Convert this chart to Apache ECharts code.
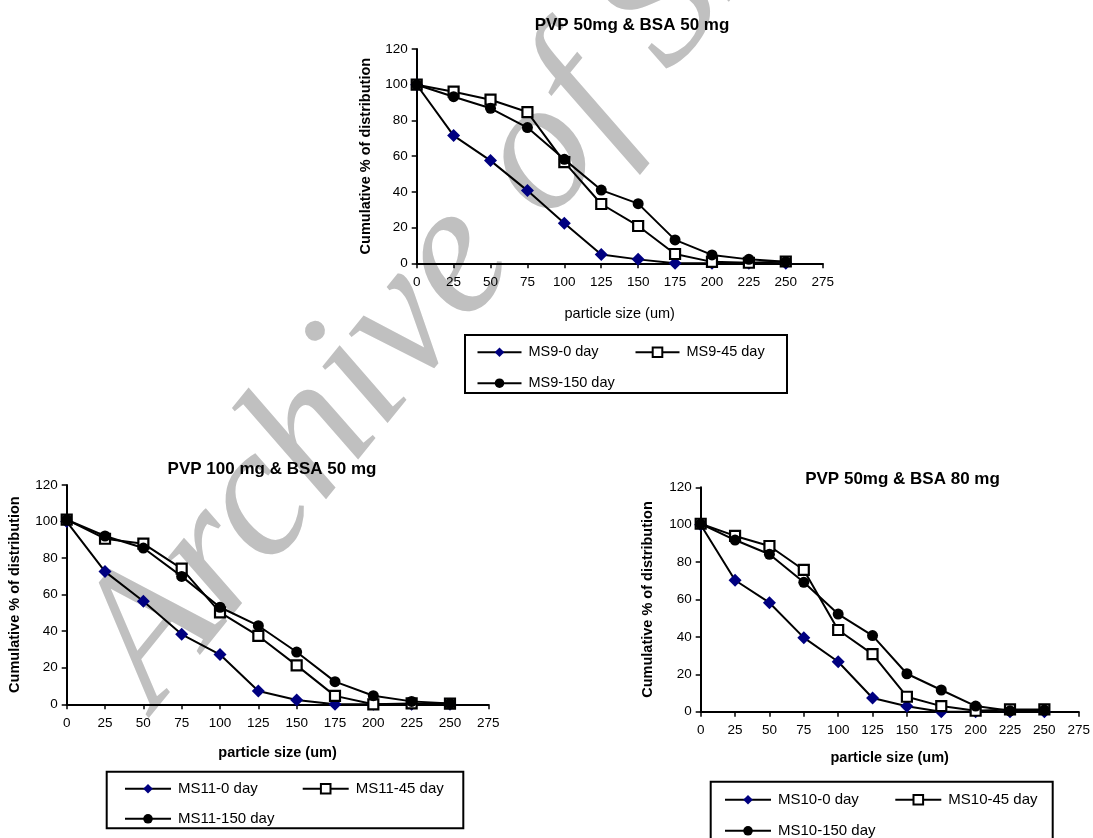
<!DOCTYPE html>
<html>
<head>
<meta charset="utf-8">
<script src="https://cdn.jsdelivr.net/npm/echarts@6/dist/echarts.min.js"></script>
<style>
html,body{margin:0;padding:0;background:#fff;}
#chart{width:1093px;height:838px;}
</style>
</head>
<body>
<div id="chart"></div>
<script>
// ---- data ----
var sizes = [0, 25, 50, 75, 100, 125, 150, 175, 200, 225, 250];

var ms9_0   = [100, 71.5, 57.5, 40.7, 22.4, 4.9, 2.2, 0, 0, 0, 0];
var ms9_45  = [100, 96.1, 91.6, 84.7, 56.7, 33.2, 20.9, 5.2, 0.8, 0.3, 1.0];
var ms9_150 = [100, 93.3, 86.8, 76.0, 58.2, 41.0, 33.4, 13.1, 4.7, 2.2, 0.9];

var ms11_0   = [100, 72.6, 56.4, 38.3, 27.2, 7.3, 2.4, 0, 0, 0, 0];
var ms11_45  = [101, 90.6, 87.9, 74.2, 50.3, 37.4, 21.3, 4.6, 0, 0.5, 0.4];
var ms11_150 = [101, 92.1, 85.5, 70.0, 53.1, 43.0, 28.6, 12.4, 4.7, 1.6, 0.4];

var ms10_0   = [100, 70.3, 58.3, 39.6, 26.7, 7.3, 2.9, 0, 0, 0, 0];
var ms10_45  = [100.5, 94.0, 88.6, 75.8, 43.7, 30.8, 8.0, 3.0, 0.5, 1.2, 1.2];
var ms10_150 = [100.5, 91.8, 84.2, 69.2, 52.2, 40.7, 20.3, 11.6, 3.0, 0.5, 0.9];

var titles = ['PVP 50mg & BSA 50 mg', 'PVP 100 mg & BSA 50 mg', 'PVP 50mg & BSA 80 mg'];
var seriesNames = [
  ['MS9-0 day', 'MS9-45 day', 'MS9-150 day'],
  ['MS11-0 day', 'MS11-45 day', 'MS11-150 day'],
  ['MS10-0 day', 'MS10-45 day', 'MS10-150 day']
];
var xName = 'particle size (um)';
var yName = 'Cumulative % of distribution';
var watermark = 'Archive of SID';

// ---- layout ----
var FONT = '"Liberation Sans", Arial, sans-serif';
var grids = [
  {left: 416.7, top: 49,    width: 406,   height: 214.3},
  {left: 66.7,  top: 485,   width: 421.6, height: 219.3},
  {left: 700.7, top: 487.3, width: 380,   height: 224.4}
];
var titlePos = [[632, 17], [272, 461], [902.5, 471]];
var xNameBold = [false, true, true];
var xNameGap = [43, 41, 39];
var yNameGap = [43, 44, 45];
var legendFont = [14.5, 15, 15];
var legendIconW = [44, 46, 46];
var legendPos = [
  [[476.5, 344.7], [634.5, 344.7], [476.5, 375.7]],
  [[124, 781.3], [301.7, 781.3], [124, 811.3]],
  [[724, 792.3], [894.3, 792.3], [724, 823.3]]
];
var legendBoxes = [
  {x: 465, y: 335, width: 322, height: 58},
  {x: 106.7, y: 771.7, width: 356.6, height: 56.6},
  {x: 710.7, y: 781.7, width: 342, height: 90}
];

var chartData = [
  [ms9_0, ms9_45, ms9_150],
  [ms11_0, ms11_45, ms11_150],
  [ms10_0, ms10_45, ms10_150]
];

function pairs(arr) {
  return sizes.map(function (s, i) { return [s, arr[i]]; });
}

var markerStyles = [
  {symbol: 'diamond', symbolSize: 13, itemStyle: {color: '#000080', borderColor: '#000080', borderWidth: 0}},
  {symbol: 'rect', symbolSize: 10, itemStyle: {color: '#ffffff', borderColor: '#000', borderWidth: 2.2}},
  {symbol: 'circle', symbolSize: 11, itemStyle: {color: '#000', borderColor: '#000', borderWidth: 0}}
];

var option = {
  animation: false,
  backgroundColor: '#fff',
  title: [], grid: [], xAxis: [], yAxis: [], series: [], legend: [], graphic: []
};

option.graphic.push({
  type: 'text',
  z: -100,
  x: 190,
  y: 738,
  rotation: 51 * Math.PI / 180,
  silent: true,
  style: {
    text: watermark,
    font: 'italic 188px "Liberation Serif", "Times New Roman", serif',
    fill: '#c0c0c0',
    align: 'left',
    verticalAlign: 'bottom'
  }
});

for (var c = 0; c < 3; c++) {
  option.title.push({
    text: titles[c],
    left: titlePos[c][0],
    top: titlePos[c][1],
    textAlign: 'center',
    padding: 0,
    textStyle: {fontFamily: FONT, fontSize: 17, fontWeight: 'bold', color: '#000'}
  });
  option.grid.push(Object.assign({containLabel: false}, grids[c]));
  option.xAxis.push({
    type: 'value', gridIndex: c, min: 0, max: 275, interval: 25,
    name: xName, nameLocation: 'middle', nameGap: xNameGap[c],
    nameTextStyle: {fontFamily: FONT, fontSize: 14.5, fontWeight: xNameBold[c] ? 'bold' : 'normal', color: '#000'},
    axisLine: {show: true, onZero: false, lineStyle: {color: '#000', width: 2}},
    axisTick: {show: true, inside: false, length: 5, lineStyle: {color: '#000', width: 1.5}},
    axisLabel: {fontFamily: FONT, fontSize: 13.5, color: '#000', margin: 12},
    splitLine: {show: false}
  });
  option.yAxis.push({
    type: 'value', gridIndex: c, min: 0, max: 120, interval: 20,
    name: yName, nameLocation: 'middle', nameGap: yNameGap[c], nameRotate: 90,
    nameTextStyle: {fontFamily: FONT, fontSize: 14.5, fontWeight: 'bold', color: '#000'},
    axisLine: {show: true, onZero: false, lineStyle: {color: '#000', width: 2}},
    axisTick: {show: true, inside: false, length: 5, lineStyle: {color: '#000', width: 1.5}},
    axisLabel: {fontFamily: FONT, fontSize: 13.5, color: '#000', margin: 9},
    splitLine: {show: false}
  });
  for (var s = 0; s < 3; s++) {
    var m = markerStyles[s];
    option.series.push({
      type: 'line',
      name: seriesNames[c][s],
      xAxisIndex: c, yAxisIndex: c,
      data: pairs(chartData[c][s]),
      symbol: m.symbol, symbolSize: m.symbolSize,
      showSymbol: true, showAllSymbol: true,
      itemStyle: m.itemStyle,
      lineStyle: {color: '#000', width: 2},
      z: 3 + s
    });
    option.legend.push({
      data: [seriesNames[c][s]],
      left: legendPos[c][s][0], top: legendPos[c][s][1],
      orient: 'horizontal', padding: 0, itemGap: 0,
      itemWidth: legendIconW[c], itemHeight: 12,
      selectedMode: false,
      textStyle: {fontFamily: FONT, fontSize: legendFont[c], color: '#000', padding: [0, 0, 0, 2]}
    });
  }
  option.graphic.push({
    type: 'rect', z: 1, silent: true,
    shape: legendBoxes[c],
    style: {fill: 'none', stroke: '#000', lineWidth: 2}
  });
}

var chart = echarts.init(document.getElementById('chart'), null, {renderer: 'canvas'});
chart.setOption(option);
</script>
</body>
</html>
